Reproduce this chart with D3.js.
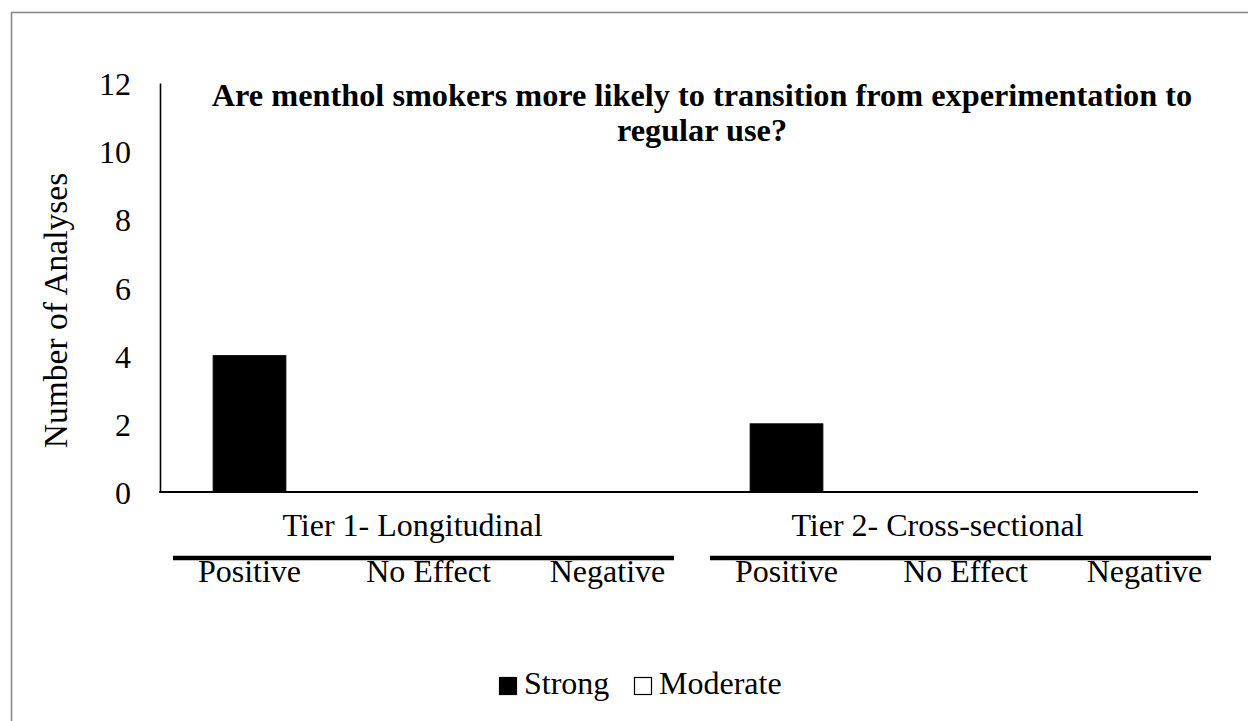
<!DOCTYPE html>
<html>
<head>
<meta charset="utf-8">
<script src="https://cdn.jsdelivr.net/npm/d3@7"></script>
<style>
  html, body { margin: 0; padding: 0; background: #fff; }
  svg { display: block; }
</style>
</head>
<body>
<svg id="chart" width="1248" height="721"></svg>
<script>
// Evidence tiers and effect directions
const tiers = ["Tier 1- Longitudinal", "Tier 2- Cross-sectional"];
const effects = ["Positive", "No Effect", "Negative"];
// Number of analyses per tier/effect, by evidence strength
const strongValues = [4, 0, 0, 2, 0, 0];
const moderateValues = [0, 0, 0, 0, 0, 0];
const seriesNames = ["Strong", "Moderate"];
const yTicks = [0, 2, 4, 6, 8, 10, 12];
const titleLines = [
  "Are menthol smokers more likely to transition from experimentation to",
  "regular use?"
];
const yTitle = "Number of Analyses";

const SERIF = "'Liberation Serif', 'Times New Roman', serif";
const svg = d3.select("#chart");
const FS = 32;

// outer frame
svg.append("rect")
  .attr("x", 11.5).attr("y", 12.5)
  .attr("width", 1400).attr("height", 900)
  .attr("fill", "none").attr("stroke", "#8a8a8a").attr("stroke-width", 1.6);

// category keys: one per tier/effect pair
const keys = [];
tiers.forEach((t, ti) => effects.forEach((e, ei) => keys.push({ key: t + "|" + e, tier: ti, effect: e })));
const rows = keys.map((k, i) => ({ ...k, Strong: strongValues[i], Moderate: moderateValues[i] }));

const plotLeft = 160, plotRight = 1198, plotTop = 83, plotBottom = 492;

const x = d3.scaleBand()
  .domain(keys.map(k => k.key))
  .range([plotLeft, plotLeft + 6 * 179])
  .paddingInner(0.594).paddingOuter(0.297);

const y = d3.scaleLinear().domain([0, 12]).range([plotBottom, plotTop]);

// stacked bars: Strong at the bottom, Moderate above
const stack = d3.stack().keys(seriesNames)(rows);
const fills = { Strong: "#000", Moderate: "#fff" };
stack.forEach(layer => {
  svg.append("g").selectAll("rect")
    .data(layer.filter(d => d[1] - d[0] > 0))
    .join("rect")
    .attr("x", d => x(d.data.key))
    .attr("width", x.bandwidth())
    .attr("y", d => y(d[1]))
    .attr("height", d => y(d[0]) - y(d[1]))
    .attr("fill", fills[layer.key])
    .attr("stroke", "#000").attr("stroke-width", 1);
});

// y axis
const yAxis = svg.append("g")
  .attr("transform", `translate(${plotLeft},0)`)
  .call(d3.axisLeft(y).tickValues(yTicks).tickSize(0).tickPadding(29));
yAxis.select(".domain").attr("stroke", "#000").attr("stroke-width", 1.6);
yAxis.selectAll("text")
  .attr("font-size", FS).attr("dy", "0.36em");

// x axis baseline across the plot area
svg.append("line")
  .attr("x1", plotLeft - 0.8).attr("x2", plotRight)
  .attr("y1", plotBottom).attr("y2", plotBottom)
  .attr("stroke", "#000").attr("stroke-width", 2);

// effect labels
svg.append("g").selectAll("text")
  .data(keys)
  .join("text")
  .attr("x", d => x(d.key) + x.bandwidth() / 2)
  .attr("y", 582)
  .attr("text-anchor", "middle")
  .attr("font-size", FS)
  .text(d => d.effect);

// tier brackets and labels
const tierLabelShift = [11, 23];
tiers.forEach((t, ti) => {
  const first = keys[ti * 3].key, last = keys[ti * 3 + 2].key;
  const x0 = x(first) - x.step() * x.paddingInner() / 2 + 13;
  const x1 = x(last) + x.bandwidth() + x.step() * x.paddingInner() / 2 - 23;
  svg.append("line")
    .attr("x1", x0).attr("x2", x1).attr("y1", 558).attr("y2", 558)
    .attr("stroke", "#000").attr("stroke-width", 4.5);
  svg.append("text")
    .attr("x", (x0 + x1) / 2 - tierLabelShift[ti])
    .attr("y", 536)
    .attr("text-anchor", "middle")
    .attr("font-size", FS)
    .text(t);
});

// title
svg.append("g").selectAll("text")
  .data(titleLines)
  .join("text")
  .attr("x", 702)
  .attr("y", (d, i) => 106 + i * 35)
  .attr("text-anchor", "middle")
  .attr("font-size", 32.3)
  .attr("font-weight", "bold")
  .text(d => d);

// y axis title
svg.append("text")
  .attr("transform", `translate(67,${(plotTop + plotBottom) / 2 + 23}) rotate(-90)`)
  .attr("text-anchor", "middle")
  .attr("font-size", 33.5)
  .text(yTitle);

// legend
const legend = svg.append("g");
const legendX = [499, 634];
seriesNames.forEach((name, i) => {
  legend.append("rect")
    .attr("x", legendX[i] + 0.5).attr("y", 677.5)
    .attr("width", 17).attr("height", 17)
    .attr("fill", fills[name]).attr("stroke", "#000").attr("stroke-width", 1.2);
  legend.append("text")
    .attr("x", legendX[i] + 25).attr("y", 694)
    .attr("font-size", FS)
    .text(name);
});

// serif face throughout
svg.selectAll("text").style("font-family", SERIF).style("fill", "#000");
</script>
</body>
</html>
